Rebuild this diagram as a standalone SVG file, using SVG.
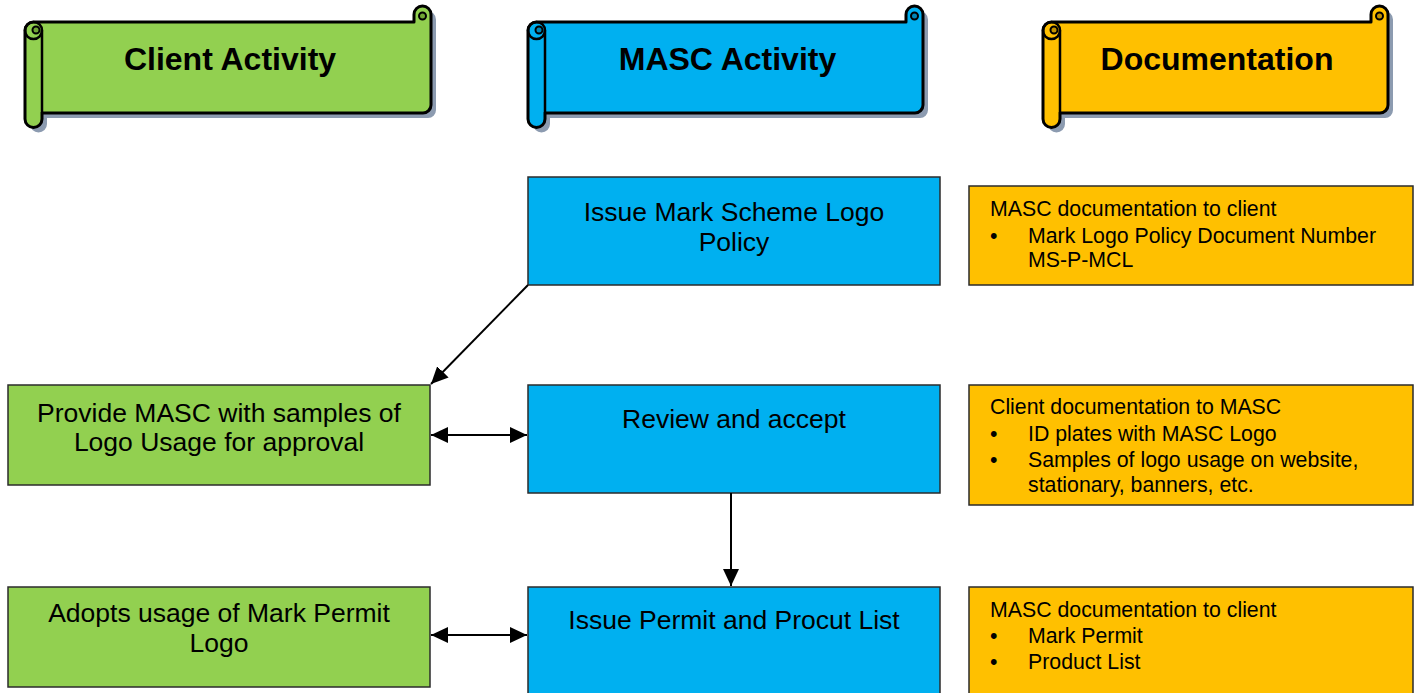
<svg xmlns="http://www.w3.org/2000/svg" width="1421" height="693" viewBox="0 0 1421 693">
<style>
.ban{stroke:#000;stroke-width:3;stroke-linejoin:round}
.sh{fill:#8c9bb0;stroke:none}
.det{fill:none;stroke:#000;stroke-width:2.5}
.title{font-family:"Liberation Sans",Arial,sans-serif;font-weight:bold;font-size:32px;fill:#000;text-anchor:middle}
.box{stroke:#2b2b2b;stroke-width:1.5}
.g{fill:#92d050}.b{fill:#00b0f0}.o{fill:#ffc000}
.t{font-family:"Liberation Sans",Arial,sans-serif;font-size:26.5px;fill:#000;text-anchor:middle}
.d{font-family:"Liberation Sans",Arial,sans-serif;font-size:21.3px;fill:#000}
.con{stroke:#000;stroke-width:2;fill:none}
</style>
<defs>
<marker id="ah" markerUnits="userSpaceOnUse" markerWidth="20" markerHeight="18" refX="17" refY="8" orient="auto-start-reverse">
<path d="M0,0 L17,8 L0,16 Z" fill="#000"/>
</marker>
</defs>

<g id="banner-client">
<path class="sh" transform="translate(5,5)" d="M25,30.5 A8.5,8.5 0 0 1 33.5,22 H414 V14.5 A8.5,8.5 0 0 1 431,14.5 V105 A8,8 0 0 1 423,113 H42 V119 A8.5,8.5 0 0 1 25,119 Z"/>
<path class="ban g" d="M25,30.5 A8.5,8.5 0 0 1 33.5,22 H414 V14.5 A8.5,8.5 0 0 1 431,14.5 V105 A8,8 0 0 1 423,113 H42 V119 A8.5,8.5 0 0 1 25,119 Z"/>
<line class="det" x1="42" y1="30.5" x2="42" y2="113"/>
<circle class="det" cx="33.5" cy="30.5" r="8.5"/>
<circle cx="36" cy="30" r="3.5" fill="#6fa535" stroke="#000" stroke-width="2"/>
<circle cx="422.5" cy="16" r="3.5" fill="#6fa535" stroke="#000" stroke-width="2"/>
<text class="title" x="230" y="70">Client Activity</text>
</g>

<g id="banner-masc">
<path class="sh" transform="translate(5,5)" d="M528,30.5 A8.5,8.5 0 0 1 536.5,22 H906 V14.5 A8.5,8.5 0 0 1 923,14.5 V105 A8,8 0 0 1 915,113 H545 V119 A8.5,8.5 0 0 1 528,119 Z"/>
<path class="ban b" d="M528,30.5 A8.5,8.5 0 0 1 536.5,22 H906 V14.5 A8.5,8.5 0 0 1 923,14.5 V105 A8,8 0 0 1 915,113 H545 V119 A8.5,8.5 0 0 1 528,119 Z"/>
<line class="det" x1="545" y1="30.5" x2="545" y2="113"/>
<circle class="det" cx="536.5" cy="30.5" r="8.5"/>
<circle cx="539" cy="30" r="3.5" fill="#0085b5" stroke="#000" stroke-width="2"/>
<circle cx="914.5" cy="16" r="3.5" fill="#0085b5" stroke="#000" stroke-width="2"/>
<text class="title" x="727.5" y="70">MASC Activity</text>
</g>

<g id="banner-doc">
<path class="sh" transform="translate(5,5)" d="M1043,30.5 A8.5,8.5 0 0 1 1051.5,22 H1371 V14.5 A8.5,8.5 0 0 1 1388,14.5 V105 A8,8 0 0 1 1380,113 H1060 V119 A8.5,8.5 0 0 1 1043,119 Z"/>
<path class="ban o" d="M1043,30.5 A8.5,8.5 0 0 1 1051.5,22 H1371 V14.5 A8.5,8.5 0 0 1 1388,14.5 V105 A8,8 0 0 1 1380,113 H1060 V119 A8.5,8.5 0 0 1 1043,119 Z"/>
<line class="det" x1="1060" y1="30.5" x2="1060" y2="113"/>
<circle class="det" cx="1051.5" cy="30.5" r="8.5"/>
<circle cx="1054" cy="30" r="3.5" fill="#c49300" stroke="#000" stroke-width="2"/>
<circle cx="1379.5" cy="16" r="3.5" fill="#c49300" stroke="#000" stroke-width="2"/>
<text class="title" x="1217" y="70">Documentation</text>
</g>

<g id="masc-issue-policy">
<rect class="box b" x="528" y="177" width="412" height="108"/>
<text class="t" x="734" y="221">Issue Mark Scheme Logo</text>
<text class="t" x="734" y="251">Policy</text>
</g>

<g id="doc-1">
<rect class="box o" x="969" y="186" width="444" height="99"/>
<text class="d" x="990" y="216">MASC documentation to client</text>
<text class="d" x="990" y="243">•</text>
<text class="d" x="1028" y="243">Mark Logo Policy Document Number</text>
<text class="d" x="1028" y="267">MS-P-MCL</text>
</g>

<g id="client-provide">
<rect class="box g" x="8" y="385" width="422" height="100"/>
<text class="t" x="219" y="422">Provide MASC with samples of</text>
<text class="t" x="219" y="451">Logo Usage for approval</text>
</g>

<g id="masc-review">
<rect class="box b" x="528" y="385" width="412" height="108"/>
<text class="t" x="734" y="428">Review and accept</text>
</g>

<g id="doc-2">
<rect class="box o" x="969" y="385" width="444" height="120"/>
<text class="d" x="990" y="414">Client documentation to MASC</text>
<text class="d" x="990" y="441">•</text>
<text class="d" x="1028" y="441">ID plates with MASC Logo</text>
<text class="d" x="990" y="467">•</text>
<text class="d" x="1028" y="467">Samples of logo usage on website,</text>
<text class="d" x="1028" y="492">stationary, banners, etc.</text>
</g>

<g id="client-adopt">
<rect class="box g" x="8" y="587" width="422" height="100"/>
<text class="t" x="219" y="622">Adopts usage of Mark Permit</text>
<text class="t" x="219" y="652">Logo</text>
</g>

<g id="masc-permit">
<rect class="box b" x="528" y="587" width="412" height="110"/>
<text class="t" x="734" y="629">Issue Permit and Procut List</text>
</g>

<g id="doc-3">
<rect class="box o" x="969" y="587" width="444" height="110"/>
<text class="d" x="990" y="617">MASC documentation to client</text>
<text class="d" x="990" y="643">•</text>
<text class="d" x="1028" y="643">Mark Permit</text>
<text class="d" x="990" y="669">•</text>
<text class="d" x="1028" y="669">Product List</text>
</g>

<g id="connectors">
<line class="con" x1="528" y1="285" x2="431" y2="384" marker-end="url(#ah)"/>
<line class="con" x1="431" y1="435" x2="527" y2="435" marker-start="url(#ah)" marker-end="url(#ah)"/>
<line class="con" x1="731" y1="493" x2="731" y2="586" marker-end="url(#ah)"/>
<line class="con" x1="431" y1="635" x2="527" y2="635" marker-start="url(#ah)" marker-end="url(#ah)"/>
</g>
</svg>
